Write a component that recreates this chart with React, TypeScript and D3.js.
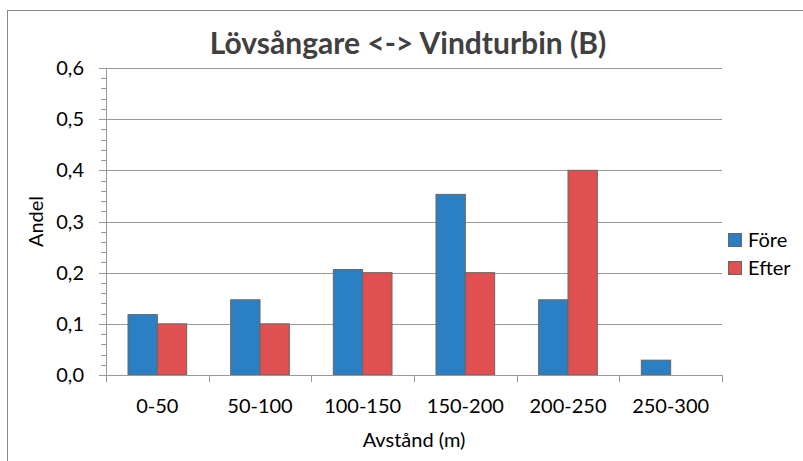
import React from 'react';
import * as d3 from 'd3';

const categories = ['0-50', '50-100', '100-150', '150-200', '200-250', '250-300'];
const fore = [0.118, 0.147, 0.206, 0.353, 0.147, 0.029];
const efter = [0.1, 0.1, 0.2, 0.2, 0.4, 0];
const seriesNames = ['Före', 'Efter'];
const seriesColors = ['#2a80c2', '#e05050'];
const yTicks = [0, 0.1, 0.2, 0.3, 0.4, 0.5, 0.6];

const W = 803, H = 461;
const plot = { left: 106, right: 722, top: 68, bottom: 375 };
const font = 'Lato, "Open Sans", sans-serif';
const fs = 20;

export default function App() {
  const x = d3.scaleBand<string>()
    .domain(categories)
    .range([plot.left, plot.right])
    .paddingInner(0)
    .paddingOuter(0);
  const y = d3.scaleLinear().domain([0, 0.6]).range([plot.bottom, plot.top]);
  const bw = x.bandwidth() / 3.5;
  const minor = d3.range(0, 0.6001, 0.02);
  const fmt = (v: number) => d3.format('.1f')(v).replace('.', ',');
  const series = [fore, efter];

  return (
    <svg width={W} height={H} style={{ position: 'absolute', left: 0, top: 0, background: '#fff' }}>
      <rect x={7.5} y={10.5} width={W + 20} height={H + 20} fill="#fff" stroke="#888" strokeWidth={1} />
      <text x={408} y={54} textAnchor="middle" fontFamily={font} fontWeight="bold" fontSize={30} fill="#404040">
        Lövsångare &lt;-&gt; Vindturbin (B)
      </text>

      {/* grid */}
      {yTicks.filter(t => t > 0).map(t => (
        <line key={t} x1={plot.left} x2={plot.right} y1={Math.round(y(t)) + 0.5} y2={Math.round(y(t)) + 0.5} stroke="#999" strokeWidth={1} />
      ))}

      {/* bars */}
      {series.map((vals, s) => vals.map((v, i) => v > 0 && (
        <rect key={`${s}-${i}`}
          x={x(categories[i])! + bw * 0.75 + s * bw}
          y={y(v)}
          width={bw}
          height={y(0) - y(v)}
          fill={seriesColors[s]}
          stroke="#666" strokeWidth={1} />
      )))}

      {/* y axis */}
      <line x1={plot.left + 0.5} x2={plot.left + 0.5} y1={plot.top} y2={plot.bottom} stroke="#999" />
      {minor.map(t => {
        const isMajor = Math.abs(t * 10 - Math.round(t * 10)) < 1e-6;
        const yy = Math.round(y(t)) + 0.5;
        return <line key={t} x1={plot.left - (isMajor ? 7 : 5)} x2={plot.left} y1={yy} y2={yy} stroke="#999" />;
      })}
      {yTicks.map(t => (
        <text key={t} x={84} y={y(t)} dy="0.35em" textAnchor="end" fontFamily={font} fontSize={fs} fill="#000">{fmt(t)}</text>
      ))}
      <text transform={`translate(36,${(plot.top + plot.bottom) / 2}) rotate(-90)`} textAnchor="middle" dy="0.35em" fontFamily={font} fontSize={fs} fill="#000">Andel</text>

      {/* x axis */}
      <line x1={plot.left} x2={plot.right + 0.5} y1={plot.bottom + 0.5} y2={plot.bottom + 0.5} stroke="#999" />
      {[...categories.map(c => x(c)!), plot.right].map((xx, i) => (
        <line key={i} x1={Math.round(xx) + 0.5} x2={Math.round(xx) + 0.5} y1={plot.bottom} y2={plot.bottom + 7} stroke="#999" />
      ))}
      {categories.map(c => (
        <text key={c} x={x(c)! + x.bandwidth() / 2} y={406} dy="0.35em" textAnchor="middle" fontFamily={font} fontSize={fs} fill="#000">{c}</text>
      ))}
      <text x={414} y={440} dy="0.35em" textAnchor="middle" fontFamily={font} fontSize={fs} fill="#000">Avstånd (m)</text>

      {/* legend */}
      {seriesNames.map((n, i) => (
        <g key={n} transform={`translate(728,${240 + i * 28})`}>
          <rect x={0.5} y={-6.5} width={13} height={13} fill={seriesColors[i]} stroke="#666" />
          <text x={20} y={0} dy="0.35em" fontFamily={font} fontSize={fs} fill="#000">{n}</text>
        </g>
      ))}
    </svg>
  );
}
